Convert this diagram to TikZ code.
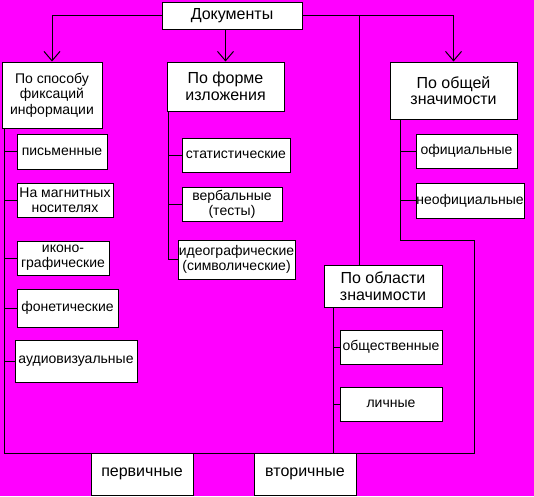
\documentclass[tikz,border=0pt]{standalone}
\usepackage{fontspec}
\setmainfont{Liberation Sans}
\usetikzlibrary{arrows.meta}
\definecolor{bg}{RGB}{255,0,255}
\begin{document}
\begin{tikzpicture}[x=0.75pt,y=-0.75pt,
  line width=0.75pt,
  sbox/.style={draw=black,fill=white,line width=0.75pt,inner sep=0pt,align=center,
    font=\fontsize{10.5}{11.5}\selectfont},
  hbox/.style={sbox,font=\fontsize{12}{12.5}\selectfont},
  arr/.style={-{Straight Barb[length=7pt,width=12pt]}}]
\useasboundingbox (0,0) rectangle (534,496);
\fill[bg] (0,0) rectangle (534,496);
% headings
\node[hbox,minimum width=105pt,minimum height=20.25pt] (doc) at (232,15.5) {Документы};
\node[sbox,minimum width=75pt,minimum height=49.5pt] (spos) at (52,95) {По способу\\фиксаций\\информации};
\node[hbox,minimum width=87.75pt,minimum height=36.75pt] (forma) at (225.5,86.5) {По форме\\изложения};
\node[hbox,minimum width=95.25pt,minimum height=42.75pt] (obsh) at (453.5,90.5) {По общей\\значимости};
\node[hbox,minimum width=88.5pt,minimum height=31.5pt] (obl) at (383,286) {По области\\значимости};
% left column
\node[sbox,minimum width=67.5pt,minimum height=26.25pt] (pism) at (62,151.5) {письменные};
\node[sbox,minimum width=72pt,minimum height=25.5pt] (magn) at (65,200) {На магнитных\\носителях};
\node[sbox,minimum width=69pt,minimum height=25.5pt] (ikon) at (63,258) {иконо-\\графические};
\node[sbox,minimum width=75.75pt,minimum height=28.5pt] (fon) at (67.5,308) {фонетические};
\node[sbox,minimum width=91.5pt,minimum height=31.5pt] (audio) at (76,361) {аудиовизуальные};
% middle column
\node[sbox,minimum width=81pt,minimum height=25.5pt] (stat) at (236,155) {статистические};
\node[sbox,minimum width=75pt,minimum height=25.5pt] (verb) at (232,204) {вербальные\\(тесты)};
\node[sbox,minimum width=87.75pt,minimum height=29.25pt] (ideo) at (236.5,259.5) {идеографические\\(символические)};
% right column
\node[sbox,minimum width=75.75pt,minimum height=25.5pt] (ofic) at (466.5,151) {официальные};
\node[sbox,minimum width=81pt,minimum height=26.25pt] (neof) at (470,200.5) {неофициальные};
% area column
\node[sbox,minimum width=76.5pt,minimum height=25.5pt] (obshch) at (391,347) {общественные};
\node[sbox,minimum width=76.5pt,minimum height=25.5pt] (lich) at (391,404) {личные};
% bottom
\node[hbox,minimum width=76.5pt,minimum height=31.5pt] (perv) at (142,474) {первичные};
\node[hbox,minimum width=76.5pt,minimum height=31.5pt] (vtor) at (305,474) {вторичные};
% coordinates
\coordinate (L0) at (4,128);
\coordinate (L1) at (4,453);
\coordinate (R0) at (400,119);
\coordinate (R1) at (400,240);
\coordinate (R2) at (474,240);
\coordinate (R3) at (474,453);
\coordinate (M0) at (168,111);
\coordinate (O0) at (333,307);
\coordinate (J0) at (359,15.5);
% arrows from the title
\draw[arr] (doc.west) -| (spos.north);
\draw[arr] (doc.south -| forma.north) -- (forma.north);
\draw[arr] (doc.east) -| (obsh.north);
\draw (J0) -- (J0 |- obl.north);
% left bus
\draw (L0) -- (L1) -- (R3) -- (R2) -- (R1) -- (R0);
\foreach \n in {pism,magn,ikon,fon,audio} \draw (\n.west -| L0) -- (\n.west);
% middle bus
\draw (M0) |- (ideo.west);
\foreach \n in {stat,verb} \draw (\n.west -| M0) -- (\n.west);
% right ticks
\foreach \n in {ofic,neof} \draw (\n.west -| R0) -- (\n.west);
% area bus
\draw (O0) -- (O0 |- L1);
\foreach \n in {obshch,lich} \draw (\n.west -| O0) -- (\n.west);
\end{tikzpicture}
\end{document}
